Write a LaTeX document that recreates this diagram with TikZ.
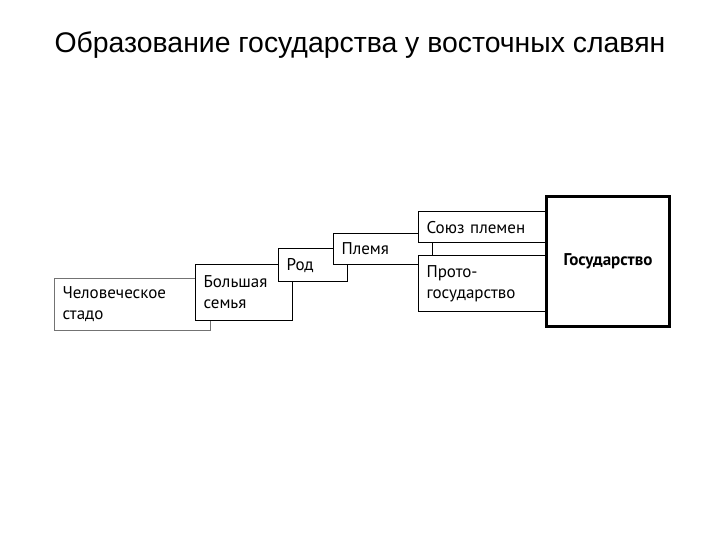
\documentclass[tikz,border=0pt]{standalone}
\usepackage{fontspec}
\setmainfont{Liberation Sans}
\newfontfamily\boxfont{PT Sans}
\usetikzlibrary{positioning}

\begin{document}
\begin{tikzpicture}[x=0.5pt,y=-0.5pt,
  bx/.style={rectangle,draw=black,line width=0.6pt,fill=white,align=left,inner xsep=4pt,inner ysep=0pt,
    font=\boxfont\fontsize{8.5}{10.5}\selectfont,anchor=north west},
  pale/.style={bx,draw=black!55},
  st/.style={rectangle,draw=black,line width=1.5pt,fill=white,align=center,
    font=\boxfont\bfseries\fontsize{8.5}{10.5}\selectfont,anchor=north west}]
\useasboundingbox (0,0) rectangle (720,540);
\node[font=\fontsize{14.2}{17}\selectfont](title) at (360,45){Образование государства у восточных славян};
\node[pale,text width=70pt,minimum height=26pt](stado) at (54,278){Человеческое\\стадо};
\node[bx,text width=40.5pt,minimum height=28pt](semya) at (195,264){Большая\\семья};
\node[bx,text width=26.5pt,minimum height=16.5pt](rod) at (278,248){Род};
\node[pale,draw=black,text width=41.5pt,minimum height=15.5pt](plemya) at (333,233){Племя};
\node[bx,text width=55.5pt,minimum height=15.5pt](soyuz) at (418,211){Союз племен};
\node[bx,text width=55.5pt,minimum height=28pt](proto) at (418,255){Прото-\\государство};
\node[st,minimum width=61.5pt,minimum height=65pt](gos) at (545,195){Государство};
\end{tikzpicture}
\end{document}
